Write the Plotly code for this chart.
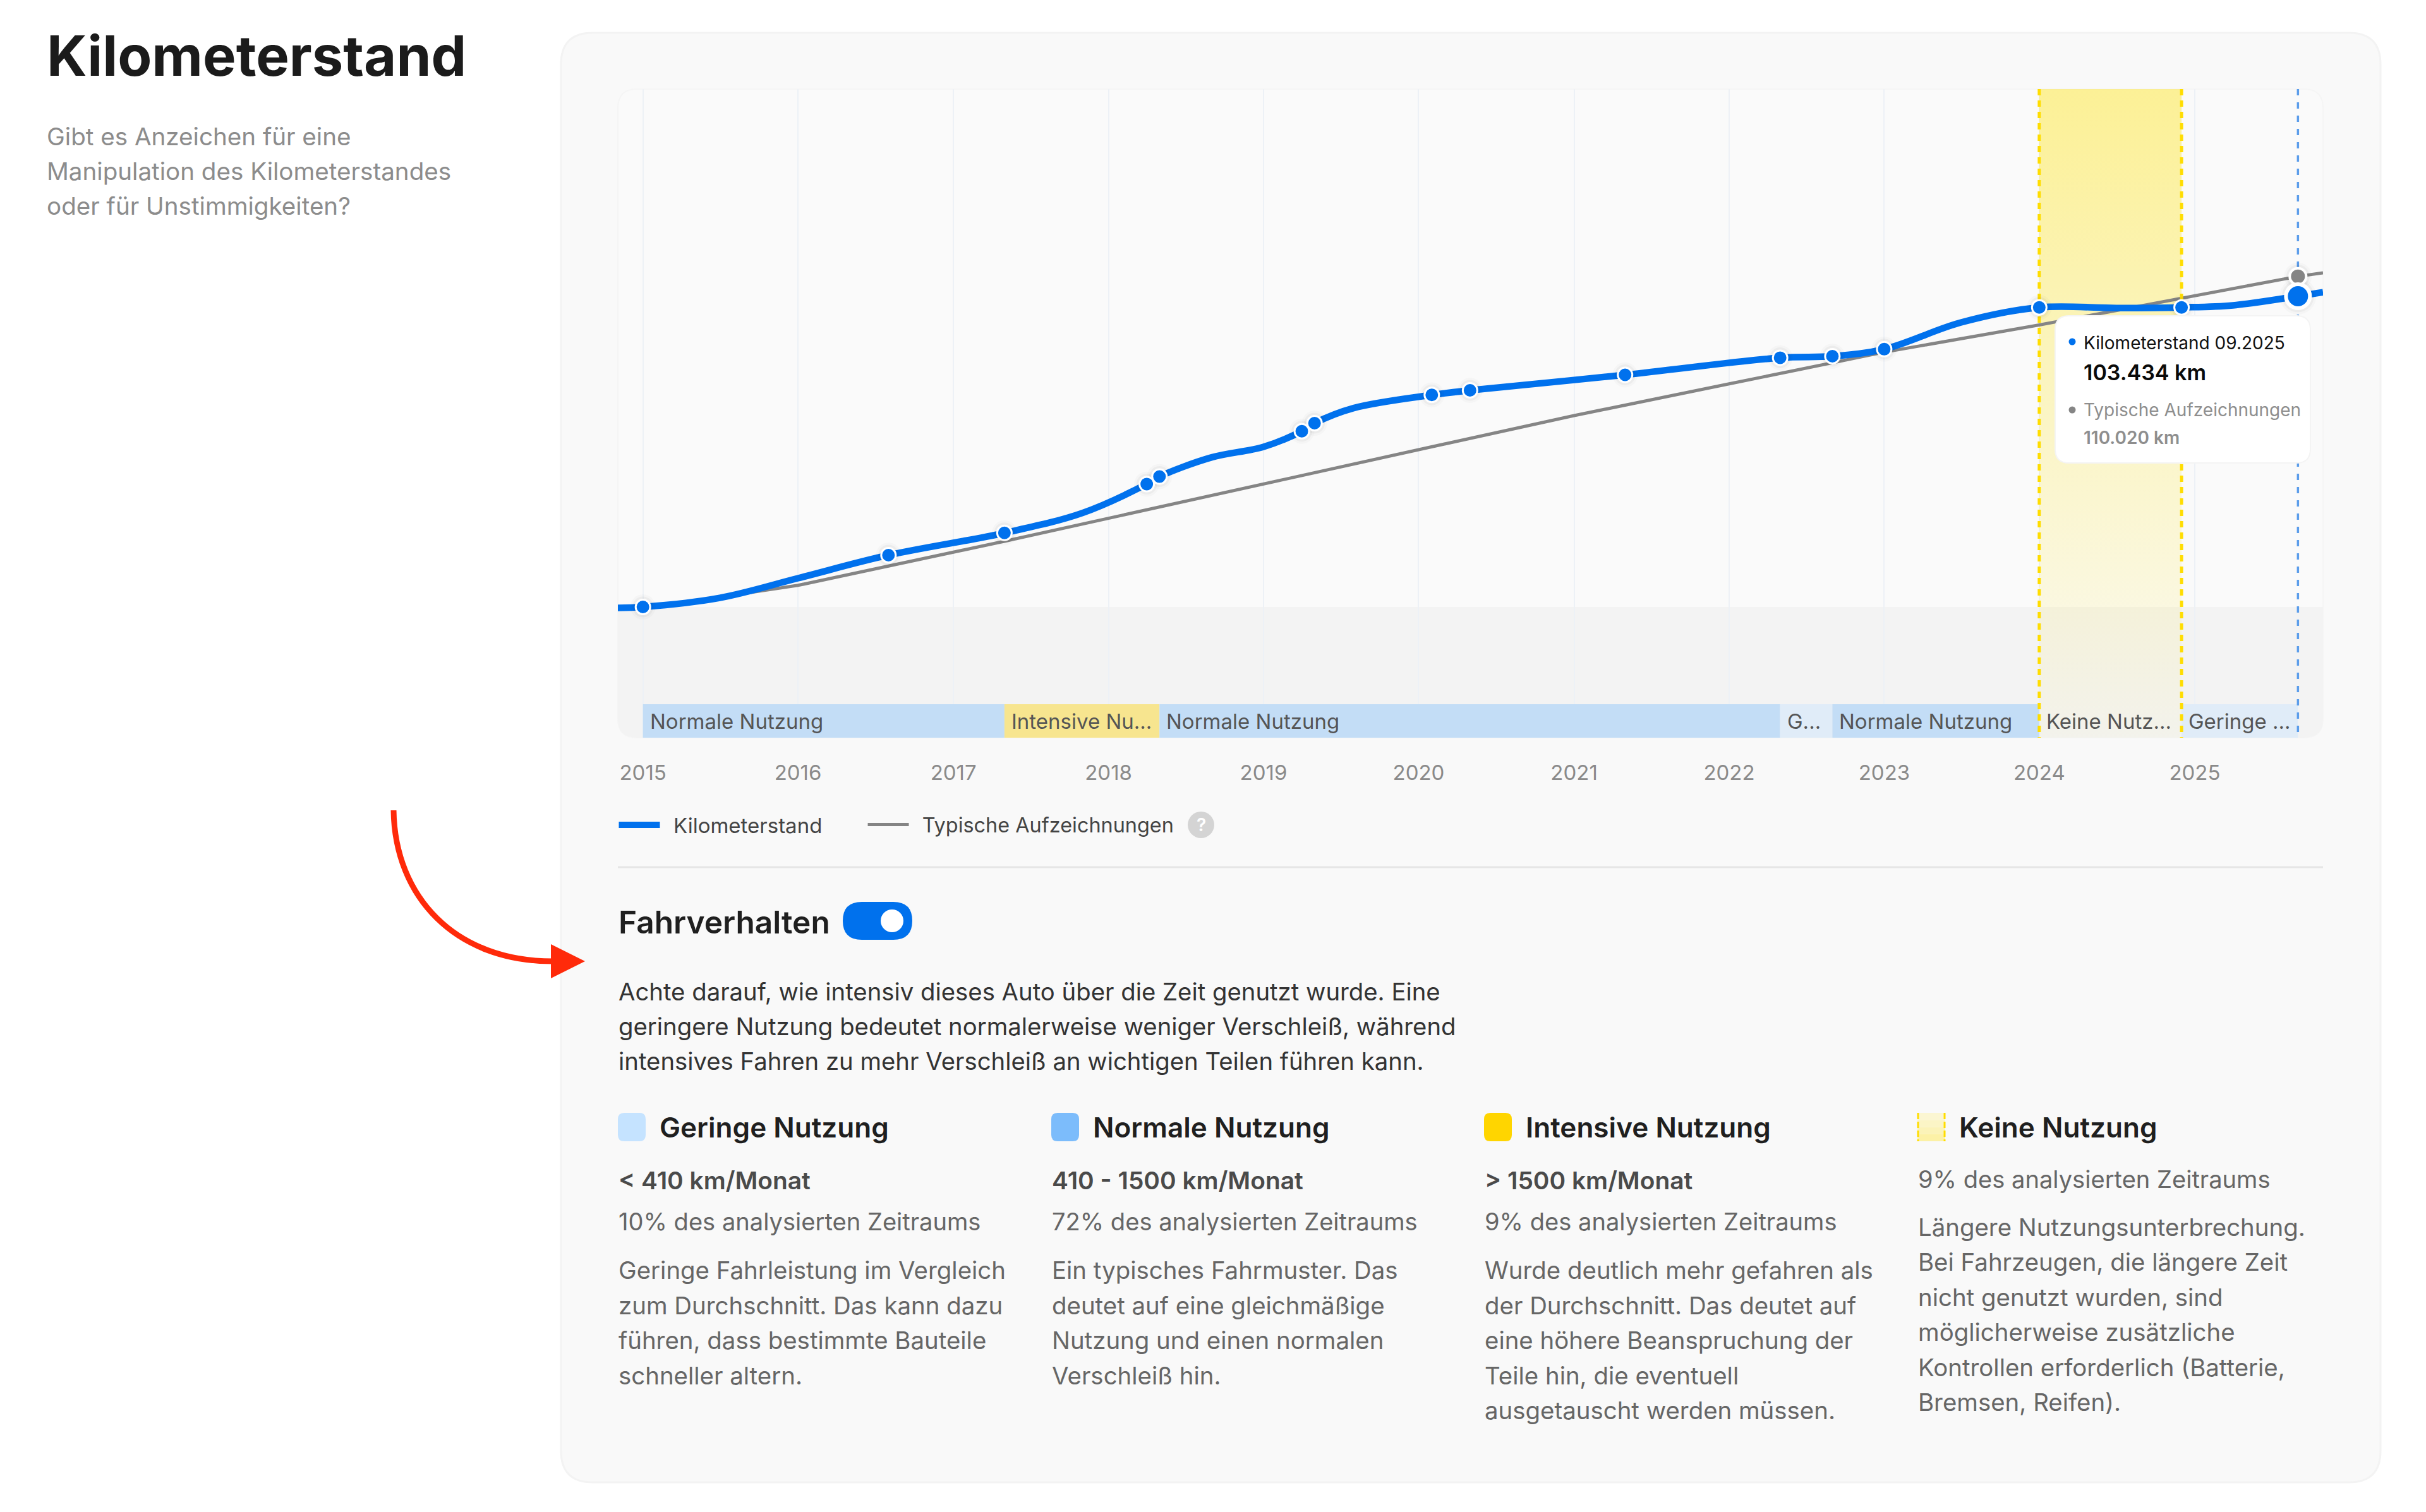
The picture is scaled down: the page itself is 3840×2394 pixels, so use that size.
import pandas as pd
import plotly.graph_objects as go

W, H = 3840, 2394
L, R, T, B = 978, 3677, 141, 1168
FONT = "Inter"

# Kilometerstand readings
reading_dates = ["2015-01-01", "2016-08-01", "2017-05-01", "2018-04-01", "2018-05-01", "2019-04-01",
                 "2019-05-01", "2020-02-01", "2020-05-01", "2021-05-01", "2022-05-01", "2022-09-01",
                 "2023-01-01", "2024-01-01", "2024-12-01", "2025-09-01"]
reading_km = [0, 17240, 24640, 40900, 43400, 58500, 61170, 70570, 72100, 77250, 82950, 83450,
              85800, 99700, 99700, 103434]

# the curve itself
curve_dates = ["2014-11-03", "2015-01-01", "2015-07-01", "2016-01-01", "2016-08-01", "2017-05-01", "2017-11-01",
               "2018-04-01", "2018-05-01", "2018-09-01", "2019-01-01", "2019-04-01", "2019-05-01", "2019-08-01",
               "2020-02-01", "2020-05-01", "2021-05-01", "2022-05-01", "2022-09-01", "2023-01-01", "2023-07-01",
               "2024-01-01", "2024-07-01", "2024-12-01", "2025-04-01", "2025-09-01", "2025-10-30"]
curve_km = [-300, 0, 3030, 9560, 17240, 24640, 31300, 40900, 43400, 49800, 53300, 58500, 61170, 66200,
            70570, 72100, 77250, 82950, 83450, 85800, 94700, 99700, 99500, 99700, 100400, 103434, 104750]

typical_dates = ["2015-01-01", "2015-05-01", "2016-01-01", "2017-05-01", "2020-01-01", "2021-01-01", "2022-01-01",
                 "2023-01-01", "2024-01-01", "2025-01-01", "2025-09-01", "2025-10-30"]
typical_km = [0, 2000, 7190, 21860, 52340, 63700, 74250, 84800, 93860, 103600, 110020, 111200]

# usage periods
period_labels = ["Normale Nutzung", "Intensive Nu...", "Normale Nutzung", "G...", "Normale Nutzung", "Keine Nutz...", "Geringe ..."]
period_starts = ["2015-01-01", "2017-05-01", "2018-05-01", "2022-05-01", "2022-09-01", "2024-01-01", "2024-12-01"]
period_ends = ["2017-05-01", "2018-05-01", "2022-05-01", "2022-09-01", "2024-01-01", "2024-12-01", "2025-09-01"]
period_kinds = ["normal", "intensive", "normal", "low", "normal", "none", "low"]

years = ["2015", "2016", "2017", "2018", "2019", "2020", "2021", "2022", "2023", "2024", "2025"]

subtitle_lines = ["Gibt es Anzeichen für eine", "Manipulation des Kilometerstandes", "oder für Unstimmigkeiten?"]
intro_lines = ["Achte darauf, wie intensiv dieses Auto über die Zeit genutzt wurde. Eine",
               "geringere Nutzung bedeutet normalerweise weniger Verschleiß, während",
               "intensives Fahren zu mehr Verschleiß an wichtigen Teilen führen kann."]

cards = [
    {"title": "Geringe Nutzung", "range": "< 410 km/Monat", "share": "10% des analysierten Zeitraums",
     "text": ["Geringe Fahrleistung im Vergleich", "zum Durchschnitt. Das kann dazu",
              "führen, dass bestimmte Bauteile", "schneller altern."]},
    {"title": "Normale Nutzung", "range": "410 - 1500 km/Monat", "share": "72% des analysierten Zeitraums",
     "text": ["Ein typisches Fahrmuster. Das", "deutet auf eine gleichmäßige",
              "Nutzung und einen normalen", "Verschleiß hin."]},
    {"title": "Intensive Nutzung", "range": "> 1500 km/Monat", "share": "9% des analysierten Zeitraums",
     "text": ["Wurde deutlich mehr gefahren als", "der Durchschnitt. Das deutet auf",
              "eine höhere Beanspruchung der", "Teile hin, die eventuell", "ausgetauscht werden müssen."]},
    {"title": "Keine Nutzung", "range": None, "share": "9% des analysierten Zeitraums",
     "text": ["Längere Nutzungsunterbrechung.", "Bei Fahrzeugen, die längere Zeit", "nicht genutzt wurden, sind",
              "möglicherweise zusätzliche", "Kontrollen erforderlich (Batterie,", "Bremsen, Reifen)."]},
]

KM_TOP, KM_BOTTOM = 172380, -43515
BLUE, GRAY = "#0071ED", "#858585"
period_colors = {"normal": "#C3DDF6", "intensive": "#F7E58F", "low": "#E0ECF8", "none": "rgba(0,0,0,0)"}
swatch_colors = ["#C5E3FF", "#7CBCFB", "#FFD500", None]
card_x = [978, 1664, 2349, 3035]


def nx(x):
    return (x - L) / (R - L)


def ny(y):
    return (B - y) / (B - T)


def ms(a, b):
    return (pd.Timestamp(b) - pd.Timestamp(a)).total_seconds() * 1000


def rrect(x0, y0, x1, y1, r=0, rb=None):
    # rounded rectangle as a path in paper coordinates, given in page pixels
    rb = r if rb is None else rb
    p = [(x0 + r, y0), (x1 - r, y0), (x1, y0), (x1, y0 + r), (x1, y1 - rb), (x1, y1), (x1 - rb, y1),
         (x0 + rb, y1), (x0, y1), (x0, y1 - rb), (x0, y0 + r), (x0, y0), (x0 + r, y0)]
    p = [f"{nx(a):.5f},{ny(b):.5f}" for a, b in p]
    return f"M{p[0]} L{p[1]} Q{p[2]} {p[3]} L{p[4]} Q{p[5]} {p[6]} L{p[7]} Q{p[8]} {p[9]} L{p[10]} Q{p[11]} {p[12]} Z"


shapes = []
annotations = []


def box(x0, y0, x1, y1, fill, r=0, line=None, lw=0, layer="below", rb=None):
    shapes.append(dict(type="path", path=rrect(x0, y0, x1, y1, r, rb), xref="paper", yref="paper", fillcolor=fill,
                       line=dict(color=line or "rgba(0,0,0,0)", width=lw), layer=layer))


def label(x, y, text, size, color, weight=400, anchor="left"):
    annotations.append(dict(x=nx(x), y=ny(y), xref="paper", yref="paper", text=text, showarrow=False,
                            xanchor=anchor, yanchor="middle", borderpad=0, align="left",
                            font=dict(family=FONT, size=size, color=color, weight=weight)))


# page furniture
box(888, 52, 3768, 2347, "#F9F9F9", r=50, line="#F3F3F3", lw=3)
box(L, T, R, B, "#FAFAFA", r=30, line="#F5F5F5", lw=2)
box(L, 961, R, B, "#F3F3F3", r=0, rb=30)

label(73, 88, "Kilometerstand", 88.4, "#1B1B1B", 700)
for line, y in zip(subtitle_lines, [216, 271, 326]):
    label(73, y, line, 38.6, "#8C8C8C")

# legend help icon
shapes.append(dict(type="circle", xref="paper", yref="paper", x0=nx(1880), x1=nx(1922), y0=ny(1327), y1=ny(1285),
                   fillcolor="#D4D4D4", line=dict(width=0), layer="below"))
label(1901, 1306, "?", 28, "#FFFFFF", 600, anchor="center")

shapes.append(dict(type="line", xref="paper", yref="paper", x0=0, x1=1, y0=ny(1373), y1=ny(1373),
                   line=dict(color="#E6E6E6", width=3), layer="below"))

# Fahrverhalten header + toggle
label(978, 1460, "Fahrverhalten", 49.6, "#1F1F1F", 600)
box(1334, 1428, 1444, 1488, BLUE, r=30)
shapes.append(dict(type="circle", xref="paper", yref="paper", x0=nx(1394), x1=nx(1430), y0=ny(1476), y1=ny(1440),
                   fillcolor="#FFFFFF", line=dict(width=0), layer="below"))
for line, y in zip(intro_lines, [1570, 1625, 1680]):
    label(978, y, line, 38.3, "#333333")

# red arrow
shapes.append(dict(type="path", xref="paper", yref="paper", layer="below", line=dict(color="#FF2A0A", width=9),
                   path=f"M{nx(623)},{ny(1283)} C{nx(625)},{ny(1420)} {nx(720)},{ny(1522)} {nx(875)},{ny(1522)}"))
shapes.append(dict(type="path", xref="paper", yref="paper", layer="below", fillcolor="#FF2A0A", line=dict(width=0),
                   path=f"M{nx(872)},{ny(1495)} L{nx(926)},{ny(1522)} L{nx(872)},{ny(1549)} Z"))

# usage cards
for card, x, swatch in zip(cards, card_x, swatch_colors):
    if swatch:
        box(x, 1762, x + 44, 1807, swatch, r=10)
    else:
        for i, tint in enumerate(["#FBF6D2", "#FBF5C6", "#FBF3B8", "#FCF1A6"]):
            box(x, 1762 + i * 11.25, x + 44, 1762 + (i + 1) * 11.25, tint)
        for edge in (x + 1, x + 43):
            shapes.append(dict(type="line", xref="paper", yref="paper", x0=nx(edge), x1=nx(edge), y0=ny(1762), y1=ny(1807),
                               line=dict(color="#FFDD00", width=3, dash="10px,4px"), layer="below"))
    label(x + 65, 1785, card["title"], 44.1, "#1F1F1F", 600)
    if card["range"]:
        label(x, 1868, card["range"], 38.9, "#4A4A4A", 600)
        label(x, 1934, card["share"], 38.1, "#666666")
        ys = [2011 + 55.5 * i for i in range(len(card["text"]))]
    else:
        label(x, 1867, card["share"], 38.1, "#666666")
        ys = [1943 + 55.4 * i for i in range(len(card["text"]))]
    for line, y in zip(card["text"], ys):
        label(x, y, line, 38.4, "#666666")

# tooltip
box(3253, 500, 3657, 733, "#FFFFFF", r=22, line="#F4F4F4", lw=2, layer="above")
for y, color in ((541, BLUE), (649, GRAY)):
    shapes.append(dict(type="circle", xref="paper", yref="paper", x0=nx(3274.5), x1=nx(3285.5), y0=ny(y + 5.5), y1=ny(y - 5.5),
                       fillcolor=color, line=dict(width=0), layer="above"))
label(3297, 543, "Kilometerstand 09.2025", 28, "#111111")
label(3297, 589, "103.434 km", 34, "#0A0A0A", 600)
label(3297, 649, "Typische Aufzeichnungen", 28, "#8E8E8E")
label(3297, 693, "110.020 km", 28, "#8E8E8E", 600)

fig = go.Figure()

# no-use period backdrop
fig.add_trace(go.Scatter(x=["2024-01-01", "2024-12-01", "2024-12-01", "2024-01-01", "2024-01-01"],
                         y=[KM_TOP, KM_TOP, KM_BOTTOM, KM_BOTTOM, KM_TOP], mode="none", fill="toself", showlegend=False,
                         hoverinfo="skip",
                         fillgradient=dict(type="vertical",
                                           colorscale=[[0, "rgba(255,226,0,0.03)"], [1, "rgba(255,226,0,0.40)"]])))

# period bars
fig.add_trace(go.Bar(y=[-37950] * len(period_labels), x=[ms(a, b) for a, b in zip(period_starts, period_ends)],
                     base=period_starts, orientation="h", width=11140, showlegend=False, hoverinfo="skip",
                     marker=dict(color=[period_colors[k] for k in period_kinds], line=dict(width=0))))
for start, text in zip(period_starts, period_labels):
    annotations.append(dict(x=start, y=-37950, xref="x", yref="y", text=text, showarrow=False, xanchor="left",
                            yanchor="middle", xshift=10, borderpad=0, font=dict(family=FONT, size=33, color="#555555")))

fig.add_trace(go.Scatter(x=typical_dates, y=typical_km, mode="lines", name="\u2002Typische Aufzeichnungen", legend="legend2",
                         line=dict(color=GRAY, width=5)))
fig.add_trace(go.Scatter(x=curve_dates, y=curve_km, mode="lines", name="\u2002Kilometerstand",
                         line=dict(color=BLUE, width=10.5, shape="spline", smoothing=1)))

# dashed period edges and the hover line
for d in ("2024-01-01", "2024-12-01"):
    fig.add_trace(go.Scatter(x=[d, d], y=[KM_TOP, KM_BOTTOM], mode="lines", showlegend=False, hoverinfo="skip",
                             line=dict(color="#FFDD00", width=5, dash="10px,8px")))
fig.add_trace(go.Scatter(x=[reading_dates[-1]] * 2, y=[KM_TOP, KM_BOTTOM], mode="lines", showlegend=False, hoverinfo="skip",
                         line=dict(color="#5B9DEB", width=3.5, dash="10px,11px")))

# marker shadows then markers
hover_date, hover_km = typical_dates[-2], typical_km[-2]
outer = [26] * (len(reading_dates) - 1) + [44]
for grow, alpha in ((14, 0.02), (7, 0.035)):
    fig.add_trace(go.Scatter(x=reading_dates + [hover_date], y=reading_km + [hover_km], mode="markers", showlegend=False,
                             hoverinfo="skip", marker=dict(size=[s + grow for s in outer] + [30 + grow], opacity=1,
                                                           color=f"rgba(0,0,0,{alpha})", line=dict(width=0))))
fig.add_trace(go.Scatter(x=[hover_date], y=[hover_km], mode="markers", showlegend=False,
                         marker=dict(size=26, color=GRAY, opacity=1, line=dict(color="#FFFFFF", width=4))))
fig.add_trace(go.Scatter(x=reading_dates, y=reading_km, mode="markers", showlegend=False,
                         marker=dict(size=[23] * (len(outer) - 1) + [38], color=BLUE, opacity=1,
                                     line=dict(color="#FFFFFF", width=[3] * (len(outer) - 1) + [6]))))

legend_style = dict(orientation="h", y=ny(1306), xanchor="left", yanchor="middle", bgcolor="rgba(0,0,0,0)", itemwidth=65)

fig.update_layout(
    width=W, height=H, margin=dict(l=L, r=W - R, t=T, b=H - B),
    paper_bgcolor="#FFFFFF", plot_bgcolor="rgba(0,0,0,0)",
    shapes=shapes, annotations=annotations, hovermode=False, barmode="overlay",
    font=dict(family=FONT),
    legend=dict(x=-0.0013, font=dict(family=FONT, size=33, color="#444444"), **legend_style),
    legend2=dict(x=0.1447, font=dict(family=FONT, size=32.4, color="#444444"), **legend_style),
    xaxis=dict(type="date", range=["2014-11-03", "2025-10-30"], tickvals=[y + "-01-01" for y in years], ticktext=years,
               showgrid=True, gridcolor="#EDF1F6", gridwidth=2, zeroline=False, showline=False,
               ticks="outside", ticklen=26, tickcolor="rgba(0,0,0,0)", tickfont=dict(family=FONT, size=33, color="#8A8A8A")),
    yaxis=dict(range=[KM_BOTTOM, KM_TOP], visible=False),
)

fig.write_html("out.html", config=dict(displayModeBar=False), post_script="document.body.style.margin='0'")
